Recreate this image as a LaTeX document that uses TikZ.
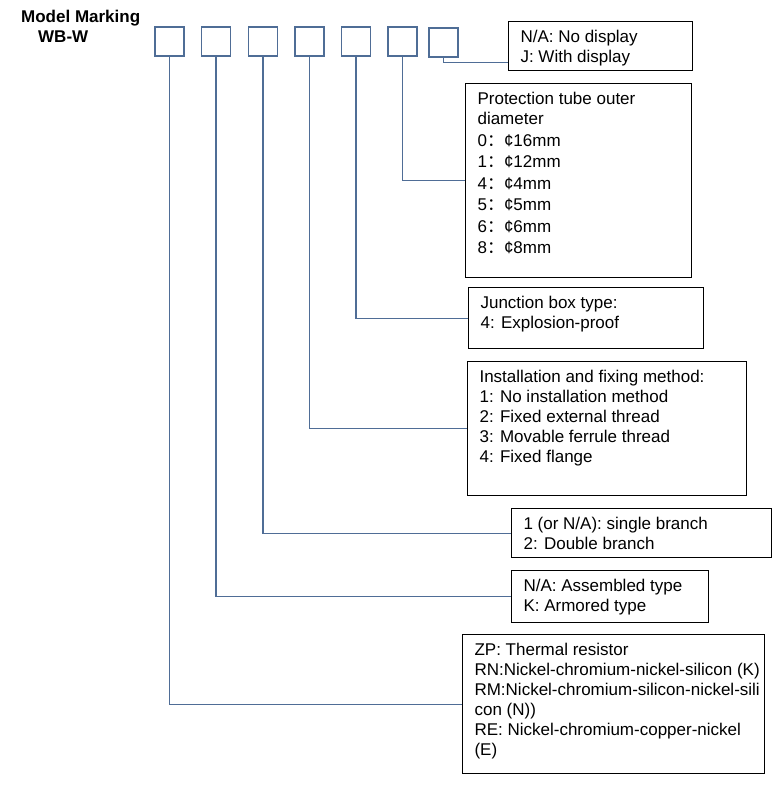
\documentclass[tikz,border=0pt]{standalone}
\usepackage{fontspec}
\setmainfont{Liberation Sans}
\newfontfamily\cjk{Noto Sans CJK SC}
\usepackage{tikz}
\usetikzlibrary{calc}
\definecolor{linkblue}{HTML}{4F6D96}
\newcommand{\boxtext}[3]{\parbox[t][#2][t]{#1}{\raggedright\exhyphenpenalty=10000\hyphenpenalty=10000 #3}}
\newcommand{\dia}[1]{#1{\cjk ：}¢}

\begin{document}
\begin{tikzpicture}[x=1pt,y=-1pt,
    digit/.style={draw=linkblue, line width=1.1pt, minimum size=29pt, inner sep=0pt},
    infobox/.style={draw, line width=1.1pt, anchor=north west, inner xsep=12pt, inner ysep=9pt,
        font=\fontsize{17pt}{20pt}\selectfont},
    link/.style={draw=linkblue, line width=1.1pt}]
    \useasboundingbox (0,0) rectangle (779,787);

    \node[anchor=north west, align=left, inner sep=0pt, font=\fontsize{17pt}{20pt}\selectfont\bfseries]
        (title) at (21,10) {Model Marking\\\hspace{17pt}WB-W};

    \node[digit] (b1) at (169.5,41.5) {};
    \node[digit] (b2) at (216,41.5) {};
    \node[digit] (b3) at (263,41.5) {};
    \node[digit] (b4) at (309.5,41.5) {};
    \node[digit] (b5) at (356,41.5) {};
    \node[digit] (b6) at (402.5,41.5) {};
    \node[digit] (b7) at (443.5,42.5) {};

    \node[infobox] (disp) at (508,21) {\boxtext{160pt}{31pt}{N/A: No display\\J: With display}};
    \node[infobox] (diam) at (465,83) {\boxtext{202pt}{176pt}{Protection tube outer\\diameter\\[1.2pt]
        \dia{0}16mm\\[1.5pt] \dia{1}12mm\\[1.5pt] \dia{4}4mm\\[1.5pt] \dia{5}5mm\\[1.5pt]
        \dia{6}6mm\\[1.5pt] \dia{8}8mm}};
    \node[infobox] (jbox) at (468,287) {\boxtext{211pt}{43pt}{Junction box type:\\4: Explosion-proof}};
    \node[infobox] (inst) at (467,361) {\boxtext{255pt}{116pt}{Installation and fixing method:\\
        1: No installation method\\2: Fixed external thread\\3: Movable ferrule thread\\4: Fixed flange}};
    \node[infobox] (branch) at (511,508) {\boxtext{236pt}{31pt}{1 (or N/A): single branch\\2: Double branch}};
    \node[infobox] (armor) at (511,570) {\boxtext{173pt}{34pt}{N/A: Assembled type\\K: Armored type}};
    \node[infobox] (sensor) at (462,634) {\boxtext{278pt}{121pt}{ZP: Thermal resistor\\
        \mbox{RN:Nickel-chromium-nickel-silicon (K)}\\\mbox{RM:Nickel-chromium-silicon-nickel-sili}\\con (N))\\
        RE: Nickel-chromium-copper-nickel\\(E)}};

    \draw[link] (b1.south) |- (sensor.west);
    \draw[link] (b2.south) |- (armor.west);
    \draw[link] (b3.south) |- (branch.west);
    \draw[link] (b4.south) |- (inst.west);
    \draw[link] (b5.south) |- (jbox.west);
    \draw[link] (b6.south) |- (diam.west);
    \coordinate (dispin) at ($(disp.south west)+(0,-9)$);
    \draw[link] (b7.south) |- (dispin);
\end{tikzpicture}
\end{document}
